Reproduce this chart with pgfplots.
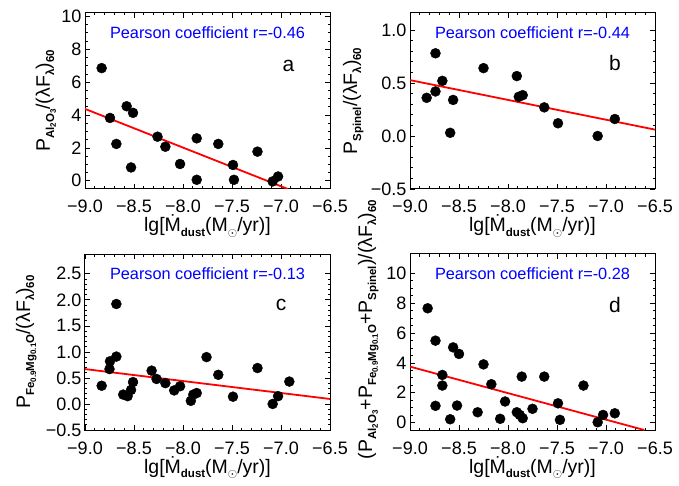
\documentclass[border=0pt]{standalone}
\usepackage{pgfplots}
\pgfplotsset{compat=1.18}
\usepackage{fontspec}
\setmainfont{Liberation Sans}
\newcommand{\sbf}[1]{\raisebox{-0.4ex}{\fontsize{11.5}{11.5}\selectfont\bfseries #1}}
\newcommand{\ssb}[1]{\raisebox{-0.3ex}{\fontsize{8}{8}\selectfont\bfseries #1}}
\newcommand{\xlab}{lg[Ṁ\sbf{dust}(M\sbf{$\odot$}/yr)]}
\pgfplotsset{
  panel/.style={
    scale only axis, width=245pt, height=176pt,
    xmin=-9, xmax=-6.5,
    xtick={-9,-8.5,-8,-7.5,-7,-6.5},
    xticklabels={−9.0,−8.5,−8.0,−7.5,−7.0,−6.5},
    minor x tick num=4,
    tick align=inside,
    major tick length=5pt, minor tick length=2.5pt,
    every tick/.style={black, line width=0.7pt},
    axis line style={line width=1pt},
    tick label style={font=\fontsize{18}{20}\selectfont},
    /pgf/number format/assume math mode=true,
    every x tick label/.style={anchor=base, yshift=-24pt},
    xlabel=\xlab,
    xlabel style={font=\fontsize{19.5}{22}\selectfont, at={(rel axis cs:0.5,0)}, anchor=base, yshift=-43pt},
    ylabel style={font=\fontsize{19.5}{22}\selectfont, rotate=0, anchor=base},
    clip=true,
  },
  dots/.style={only marks, mark=*, mark size=5pt, black, mark options={fill=black, draw=black}},
  fit/.style={red, line width=1.8pt, no marks},
}
\newcommand{\pear}[1]{\node[blue, font=\fontsize{16.3}{18}\selectfont] at (rel axis cs:0.5,0.89) {Pearson coefficient r=-#1};}
\newcommand{\lett}[3]{\node[font=\fontsize{21}{24}\selectfont] at (rel axis cs:#2,#3) {#1};}
\begin{document}
\begin{tikzpicture}
\path[use as bounding box] (0,0) rectangle (679pt,485pt);
% panel a
\begin{axis}[panel, at={(85pt,296pt)}, anchor=south west,
  ymin=-0.5, ymax=10.2, ytick={0,2,4,6,8,10}, yticklabels={0,2,4,6,8,10}, minor y tick num=3,
  ylabel={P\sbf{Al\ssb{2}O\ssb{3}}/(λF\sbf{λ})\sbf{60}},
  ylabel style={at={(rel axis cs:-0.143,0.5)}}]
\addplot[dots] coordinates {(-8.83,6.85)(-8.745,3.82)(-8.68,2.24)(-8.575,4.53)(-8.51,4.13)(-8.53,0.81)(-8.26,2.68)(-8.18,2.07)(-8.03,1.02)(-7.86,0.06)(-7.86,2.58)(-7.64,2.24)(-7.49,0.96)(-7.48,0.06)(-7.24,1.77)(-7.085,-0.04)(-7.03,0.26)};
\addplot[fit] coordinates {(-9,4.37)(-6.93,-0.5)};
\pear{0.46}
\lett{a}{0.83}{0.70}
\end{axis}
% panel b
\begin{axis}[panel, at={(410pt,296pt)}, anchor=south west,
  ymin=-0.5, ymax=1.16, ytick={-0.5,0,0.5,1}, yticklabels={−0.5,0.0,0.5,1.0}, minor y tick num=4,
  ylabel={P\sbf{Spinel}/(λF\sbf{λ})\sbf{60}},
  ylabel style={at={(rel axis cs:-0.216,0.5)}}]
\addplot[dots] coordinates {(-8.83,0.36)(-8.74,0.78)(-8.74,0.42)(-8.67,0.52)(-8.56,0.34)(-8.59,0.03)(-8.25,0.64)(-7.91,0.565)(-7.89,0.37)(-7.85,0.385)(-7.63,0.27)(-7.49,0.12)(-7.085,0.0)(-6.91,0.16)};
\addplot[fit] coordinates {(-9,0.527)(-6.5,0.06)};
\pear{0.44}
\lett{b}{0.837}{0.716}
\end{axis}
% panel c
\begin{axis}[panel, at={(85pt,55pt)}, anchor=south west,
  ymin=-0.5, ymax=2.88, ytick={-0.5,0,0.5,1,1.5,2,2.5}, yticklabels={−0.5,0.0,0.5,1.0,1.5,2.0,2.5}, minor y tick num=4,
  ylabel={P\sbf{Fe\ssb{0.9}Mg\ssb{0.1}O}/(λF\sbf{λ})\sbf{60}},
  ylabel style={at={(rel axis cs:-0.224,0.5)}}]
\addplot[dots] coordinates {(-8.83,0.35)(-8.745,0.82)(-8.75,0.67)(-8.68,1.92)(-8.68,0.91)(-8.61,0.18)(-8.565,0.15)(-8.53,0.27)(-8.51,0.42)(-8.32,0.64)(-8.27,0.48)(-8.18,0.40)(-8.09,0.26)(-8.03,0.34)(-7.92,0.06)(-7.895,0.18)(-7.86,0.21)(-7.76,0.90)(-7.64,0.56)(-7.49,0.14)(-7.24,0.69)(-7.085,0.0)(-7.03,0.15)(-6.915,0.43)};
\addplot[fit] coordinates {(-9,0.67)(-6.5,0.096)};
\pear{0.13}
\lett{c}{0.80}{0.71}
\end{axis}
% panel d
\begin{axis}[panel, at={(410pt,55pt)}, anchor=south west,
  ymin=-0.5, ymax=11.3, ytick={0,2,4,6,8,10}, yticklabels={0,2,4,6,8,10}, minor y tick num=3,
  ylabel={(P\sbf{Al\ssb{2}O\ssb{3}}+P\sbf{Fe\ssb{0.9}Mg\ssb{0.1}O}+P\sbf{Spinel})/(λF\sbf{λ})\sbf{60}},
  ylabel style={at={(rel axis cs:-0.155,0.57)}}]
\addplot[dots] coordinates {(-8.82,7.66)(-8.74,5.49)(-8.74,1.12)(-8.67,3.19)(-8.67,2.48)(-8.59,0.22)(-8.56,5.04)(-8.52,1.14)(-8.50,4.6)(-8.31,0.69)(-8.25,3.9)(-8.17,2.57)(-8.08,0.25)(-8.03,1.41)(-7.91,0.69)(-7.88,0.51)(-7.86,3.08)(-7.85,0.29)(-7.75,0.92)(-7.63,3.08)(-7.49,1.29)(-7.47,0.18)(-7.23,2.48)(-7.085,0.02)(-7.03,0.51)(-6.91,0.62)};
\addplot[fit] coordinates {(-9,3.75)(-6.61,-0.5)};
\pear{0.28}
\lett{d}{0.837}{0.71}
\end{axis}
\end{tikzpicture}
\end{document}
